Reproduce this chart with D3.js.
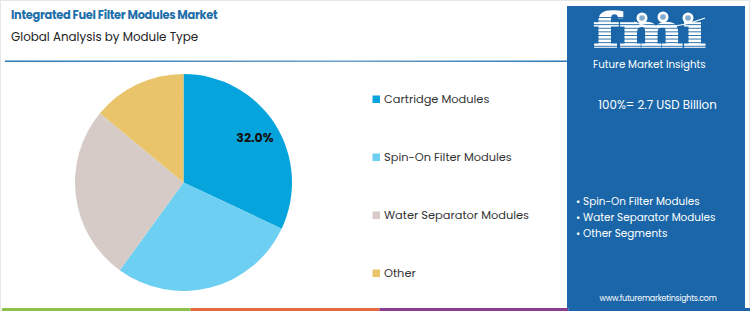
<!DOCTYPE html>
<html><head><meta charset="utf-8">
<script src="https://cdn.jsdelivr.net/npm/d3@7"></script>
<style>body{margin:0;background:#fff}svg{display:block}</style>
</head><body>
<svg id="c" width="750" height="311"></svg>
<script>
const categories = ["Cartridge Modules", "Spin-On Filter Modules", "Water Separator Modules", "Other"];
const shares = [32.0, 28.0, 26.0, 14.0];
const colors = ["#06a4dc", "#6dcff1", "#d6cbc7", "#e9c46b"];
const panelBullets = ["Spin-On Filter Modules", "Water Separator Modules", "Other Segments"];
const footerColors = ["#8fc04d", "#e3693f", "#8a3d8f", "#1a66a8"];

const svg = d3.select("#c");
const font = "Poppins, 'Open Sans', 'Noto Sans', sans-serif";

// card border
svg.append("rect").attr("x",0.5).attr("y",0.5).attr("width",749).attr("height",310)
  .attr("fill","#fff").attr("stroke","#e6e6e6");

// title
svg.append("text").attr("x",11).attr("y",19).text("Integrated Fuel Filter Modules Market")
  .attr("font-family",font).attr("font-weight",700).attr("font-size",11.4).attr("fill","#1d6fa9").attr("letter-spacing",-0.3);
svg.append("text").attr("x",11).attr("y",40.5).text("Global Analysis by Module Type")
  .attr("font-family",font).attr("font-size",11.9).attr("fill","#222");

// divider line gradient
const defs = svg.append("defs");
const lg = defs.append("linearGradient").attr("id","lg").attr("x1","0").attr("x2","1");
lg.append("stop").attr("offset","0").attr("stop-color","#2a79b4");
lg.append("stop").attr("offset","0.6").attr("stop-color","#6d9fc8");
lg.append("stop").attr("offset","1").attr("stop-color","#2a79b4");
svg.append("rect").attr("x",5).attr("y",60.5).attr("width",562).attr("height",1.5).attr("fill","url(#lg)");

// pie
const cx = 183.5, cy = 182.5, r = 108.5;
const pie = d3.pie().sort(null).value(d => d)(shares);
const arc = d3.arc().innerRadius(0).outerRadius(r);
const g = svg.append("g").attr("transform",`translate(${cx},${cy})`);
g.selectAll("path").data(pie).join("path").attr("d",arc).attr("fill",(d,i)=>colors[i]);
const lab = d3.arc().innerRadius(r*0.78).outerRadius(r*0.78);
const p0 = lab.centroid(pie[0]);
g.append("text").attr("x",p0[0]).attr("y",p0[1]).attr("text-anchor","middle").attr("dy","0.35em")
  .attr("font-family",font).attr("font-weight",700).attr("font-size",12.5).attr("fill","#111")
  .text(d3.format(".1f")(shares[0])+"%");

// legend
const ly = d3.scalePoint().domain(categories).range([99,273]);
const leg = svg.append("g");
categories.forEach((c,i)=>{
  leg.append("rect").attr("x",372.5).attr("y",ly(c)-3.5).attr("width",7.5).attr("height",7.5).attr("fill",colors[i]);
  leg.append("text").attr("x",384).attr("y",ly(c)).attr("dy","0.35em").text(c)
    .attr("font-family",font).attr("font-size",11.4).attr("fill","#333");
});

// right panel
svg.append("rect").attr("x",567).attr("y",6).attr("width",178).attr("height",302).attr("fill","#1a66a8");
// logo
const logo = svg.append("g");
logo.append("text").attr("x",593).attr("y",47).text("fmı")
  .attr("font-family","'DejaVu Serif', serif").attr("font-weight",700).attr("font-size",46)
  .attr("textLength",113).attr("lengthAdjust","spacingAndGlyphs").attr("fill","#fff")
  .attr("stroke","#fff").attr("stroke-width",1.5);
for(let y=17;y<48;y+=3.6){
  logo.append("rect").attr("x",590).attr("y",y).attr("width",120).attr("height",0.9).attr("fill","#1a66a8");
}
[[642,18],[663,17],[688,18]].forEach(([x,y])=>{
  logo.append("circle").attr("cx",x).attr("cy",y).attr("r",5.5).attr("fill","#fff");
  logo.append("circle").attr("cx",x).attr("cy",y).attr("r",2.8).attr("fill","#1a66a8").attr("opacity",0.55);
});
logo.append("path").attr("d","M634 22 Q663 34 705 18").attr("stroke","#fff").attr("stroke-width",1.3).attr("fill","none");
svg.append("text").attr("x",593).attr("y",68).text("Future Market Insights")
  .attr("font-family",font).attr("font-size",10.3).attr("fill","#fff");

svg.append("text").attr("x",657.5).attr("y",105).attr("text-anchor","middle").attr("dy","0.35em")
  .text("100%= 2.7 USD Billion").attr("font-family",font).attr("font-size",11.8).attr("fill","#fff");

panelBullets.forEach((b,i)=>{
  svg.append("text").attr("x",576).attr("y",201+i*16).attr("dy","0.35em").text("• "+b)
    .attr("font-family",font).attr("font-size",10.4).attr("fill","#fff");
});
svg.append("text").attr("x",658).attr("y",298).attr("text-anchor","middle").attr("dy","0.35em")
  .text("www.futuremarketinsights.com").attr("font-family",font).attr("font-size",7.9).attr("fill","#fff").attr("letter-spacing",-0.2);

// footer bar
const fx = d3.scaleBand().domain(d3.range(footerColors.length)).range([2,757]);
svg.selectAll(".fb").data(footerColors).join("rect").attr("class","fb")
  .attr("x",(d,i)=>fx(i)).attr("y",308).attr("width",fx.bandwidth()).attr("height",3).attr("fill",d=>d);
</script>
</body></html>
